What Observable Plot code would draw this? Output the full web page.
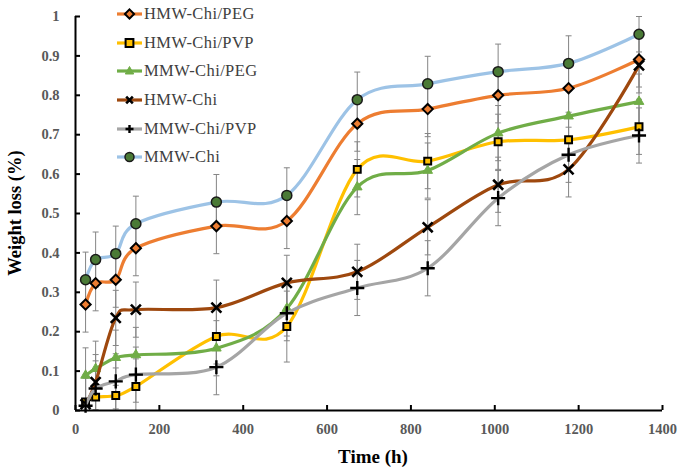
<!DOCTYPE html>
<html>
<head>
<meta charset="utf-8">
<script src="https://cdn.jsdelivr.net/npm/d3@7"></script>
<script src="https://cdn.jsdelivr.net/npm/@observablehq/plot@0.6"></script>
<style>
  html, body { margin: 0; padding: 0; background: #fff; }
  #wrap { position: relative; width: 685px; height: 472px; font-family: "Liberation Serif", "Times New Roman", serif; }
  #chart svg, #chart svg text { font-family: "Liberation Serif", "Times New Roman", serif !important; }
  #legend { position: absolute; left: 116px; top: 0px; }
  .row { display: flex; align-items: center; height: 28.6px; font-size: 16.5px; letter-spacing: 0.4px; color: #404040; }
  .row svg { margin-right: 1px; }
  .ytitle { position: absolute; left: 15px; top: 213px; transform: translate(-50%, -50%) rotate(-90deg); font-weight: bold; font-size: 18.5px; white-space: nowrap; color: #000; }
  .xtitle { position: absolute; left: 373px; top: 457px; transform: translate(-50%, -50%); font-weight: bold; font-size: 19px; white-space: nowrap; color: #000; }
</style>
</head>
<body>
<div id="wrap">
  <div id="chart"></div>
  <div id="legend"></div>
  <div class="ytitle">Weight loss (%)</div>
  <div class="xtitle">Time (h)</div>
</div>
<script>
const times = [24, 48, 96, 144, 336, 504, 672, 840, 1008, 1176, 1344];
const xTicks = [0, 200, 400, 600, 800, 1000, 1200, 1400];
const yTicks = [0, 0.1, 0.2, 0.3, 0.4, 0.5, 0.6, 0.7, 0.8, 0.9, 1];

const seriesNames = ["HMW-Chi/PEG", "HMW-Chi/PVP", "MMW-Chi/PEG", "HMW-Chi", "MMW-Chi/PVP", "MMW-Chi"];

const hmwPeg  = [0.269, 0.323, 0.332, 0.412, 0.468, 0.481, 0.728, 0.765, 0.800, 0.818, 0.891];
const hmwPvp  = [0.022, 0.034, 0.038, 0.061, 0.188, 0.213, 0.612, 0.633, 0.682, 0.687, 0.720];
const mmwPeg  = [0.089, 0.106, 0.134, 0.141, 0.158, 0.259, 0.567, 0.609, 0.704, 0.747, 0.784];
const hmwChi  = [0.016, 0.072, 0.235, 0.256, 0.261, 0.324, 0.352, 0.465, 0.573, 0.612, 0.876];
const mmwPvp  = [0.012, 0.056, 0.074, 0.091, 0.110, 0.247, 0.311, 0.361, 0.539, 0.649, 0.698];
const mmwChi  = [0.332, 0.383, 0.398, 0.474, 0.529, 0.546, 0.789, 0.829, 0.860, 0.881, 0.955];

const errHmwPeg = [0.07, 0.07, 0.07, 0.07, 0.07, 0.07, 0.07, 0.07, 0.07, 0.07, 0.07];
const errHmwPvp = [0.07, 0.07, 0.07, 0.07, 0.07, 0.09, 0.07, 0.07, 0.07, 0.07, 0.07];
const errMmwPeg = [0.07, 0.07, 0.07, 0.07, 0.07, 0.07, 0.07, 0.07, 0.07, 0.07, 0.07];
const errHmwChi = [0.07, 0.07, 0.07, 0.07, 0.07, 0.07, 0.07, 0.07, 0.07, 0.07, 0.07];
const errMmwPvp = [0.07, 0.07, 0.07, 0.07, 0.07, 0.07, 0.07, 0.07, 0.07, 0.07, 0.07];
const errMmwChi = [0.07, 0.07, 0.07, 0.07, 0.07, 0.07, 0.07, 0.07, 0.07, 0.07, 0.045];

const lineColors = ["#ED7D31", "#FFC000", "#70AD47", "#9E480E", "#A5A5A5", "#9DC3E6"];

const valueArrays = [hmwPeg, hmwPvp, mmwPeg, hmwChi, mmwPvp, mmwChi];
const errorArrays = [errHmwPeg, errHmwPvp, errMmwPeg, errHmwChi, errMmwPvp, errMmwChi];

const markerStyles = [
  {symbol: "diamond2", r: 4.6, fill: "#ED7D31", stroke: "#000", strokeWidth: 2},
  {symbol: "square2", r: 4.4, fill: "#FFC000", stroke: "#000", strokeWidth: 2},
  {symbol: "triangle2", r: 4.6, fill: "#70AD47", stroke: "#70AD47", strokeWidth: 1},
  {symbol: "times", r: 4.6, fill: "none", stroke: "#000", strokeWidth: 2.6},
  {symbol: "plus", r: 4.6, fill: "none", stroke: "#000", strokeWidth: 2.4},
  {symbol: "circle", r: 5, fill: "#4A7A36", stroke: "#1a1a1a", strokeWidth: 1.5}
];

const data = seriesNames.flatMap((name, s) =>
  times.map((t, i) => ({series: name, idx: s, t, v: valueArrays[s][i], e: errorArrays[s][i]}))
);

const capSymbol = {
  draw(context, size) {
    const r = Math.sqrt(size / Math.PI);
    context.moveTo(-r, 0);
    context.lineTo(r, 0);
  }
};

const seriesMarks = seriesNames.flatMap((name, s) => {
  const rows = data.filter(d => d.series === name);
  const m = markerStyles[s];
  return [
    Plot.line(rows, {x: "t", y: "v", stroke: lineColors[s], strokeWidth: 3.2, curve: "cardinal"}),
    Plot.dot(rows, {x: "t", y: "v", symbol: m.symbol, r: m.r, fill: m.fill, stroke: m.stroke, strokeWidth: m.strokeWidth})
  ];
});

const serif = "'Liberation Serif', 'Times New Roman', serif";

const chart = Plot.plot({
  width: 685,
  height: 472,
  marginLeft: 75,
  marginRight: 23,
  marginTop: 16,
  marginBottom: 62,
  style: {background: "#fff"},
  x: {domain: [0, 1400]},
  y: {domain: [0, 1]},
  marks: [
    Plot.link(data, {x1: "t", x2: "t", y1: d => d.v - d.e, y2: d => d.v + d.e, stroke: "#858585", strokeWidth: 1, clip: true}),
    Plot.dot(data, {x: "t", y: d => d.v + d.e, symbol: capSymbol, r: 3, stroke: "#858585", strokeWidth: 1, clip: true}),
    Plot.dot(data, {x: "t", y: d => d.v - d.e, symbol: capSymbol, r: 3, stroke: "#858585", strokeWidth: 1, clip: true}),
    ...seriesMarks,
    Plot.ruleX([0], {stroke: "#000", strokeWidth: 2}),
    Plot.ruleY([0], {stroke: "#000", strokeWidth: 2}),
    Plot.axisX({ticks: xTicks, tickSize: -5, strokeWidth: 2, text: null, label: null}),
    Plot.axisY({ticks: yTicks, tickSize: -5, strokeWidth: 2, text: null, label: null}),
    Plot.axisX({ticks: xTicks, tickSize: 0, tickPadding: 13, label: null, fontSize: 14.5, fontWeight: "bold", fill: "#595959", tickFormat: d => String(d), style: {letterSpacing: "1.6px"}}),
    Plot.axisY({ticks: yTicks, tickSize: 0, tickPadding: 16, label: null, fontSize: 14.5, fontWeight: "bold", fill: "#595959", tickFormat: d => String(+d.toFixed(1)), style: {letterSpacing: "1px"}})
  ]
});
document.getElementById("chart").appendChild(chart);

// Legend
const legend = document.getElementById("legend");
const symbolPaths = {
  "diamond2": "M0,-4.6L4.6,0L0,4.6L-4.6,0Z",
  "square2": "M-3.9,-3.9h7.8v7.8h-7.8Z",
  "triangle2": "M0,-4.5L4.2,3L-4.2,3Z",
  "times": "M-3.3,-3.3L3.3,3.3M3.3,-3.3L-3.3,3.3",
  "plus": "M-4,0H4M0,-4V4",
  "circle": "M4.5,0A4.5,4.5 0 1,1 -4.5,0A4.5,4.5 0 1,1 4.5,0Z"
};
seriesNames.forEach((name, s) => {
  const m = markerStyles[s];
  const row = document.createElement("div");
  row.className = "row";
  row.innerHTML = `<svg width="27" height="14" viewBox="0 0 27 14">
    <line x1="1" y1="7" x2="26" y2="7" stroke="${lineColors[s]}" stroke-width="3.2"/>
    <path transform="translate(13.5,7)" d="${symbolPaths[m.symbol]}" fill="${m.fill}" stroke="${m.stroke}" stroke-width="${m.strokeWidth}"/>
  </svg><span>${name}</span>`;
  legend.appendChild(row);
});
</script>
</body>
</html>
